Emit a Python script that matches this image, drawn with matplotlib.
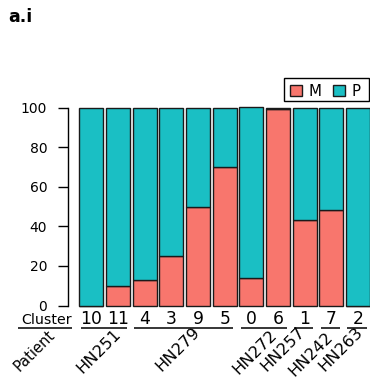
import matplotlib
matplotlib.use("Agg")
import matplotlib.pyplot as plt
from matplotlib.patches import Rectangle

plt.rcParams['font.family'] = ['DejaVu Sans']

# Cluster composition: percent of cells from metastasis (M) vs primary (P)
clusters = ['10', '11', '4', '3', '9', '5', '0', '6', '1', '7', '2']
patients = ['HN251', 'HN251', 'HN279', 'HN279', 'HN279', 'HN279',
            'HN272', 'HN272', 'HN257', 'HN242', 'HN263']
pct_m = [0, 10, 13, 25, 50, 70, 14, 99, 43, 48, 0]
pct_p = [100 - v for v in pct_m]
legend_labels = ['M', 'P']

col_m = '#F8766D'
col_p = '#1ABFC4'
edge = '#1a1a1a'

W, H = 370, 380
fig = plt.figure(figsize=(W / 100, H / 100), dpi=100)

# axes placed in pixel terms
ax_left_px, ax_right_px = 67.7, 370.0
ax_top_px, ax_bot_px = 107.5, 305.5
ax = fig.add_axes([ax_left_px / W, 1 - ax_bot_px / H,
                   (ax_right_px - ax_left_px) / W, (ax_bot_px - ax_top_px) / H])

pitch_px = 26.67
x0_px = 91.3
xs = list(range(len(clusters)))
ax.set_xlim((ax_left_px - x0_px) / pitch_px, (ax_right_px - x0_px) / pitch_px)
ax.set_ylim(0, 100)

bw = 0.89
ax.bar(xs, pct_m, width=bw, color=col_m, edgecolor=edge, linewidth=1.0, clip_on=False)
ax.bar(xs, pct_p, width=bw, bottom=pct_m, color=col_p, edgecolor=edge, linewidth=1.0,
       clip_on=False)

for s in ['top', 'right', 'bottom']:
    ax.spines[s].set_visible(False)
ax.spines['left'].set_bounds(0, 100)
ax.spines['left'].set_linewidth(1.0)
ax.set_xticks([])
ax.set_yticks([0, 20, 40, 60, 80, 100])
ax.tick_params(axis='y', length=7.5, width=1.0, pad=7.2, labelsize=10)


def ydata(py):
    return (ax_bot_px - py) * 100.0 / (ax_bot_px - ax_top_px)


def xdata(px):
    return (px - x0_px) / pitch_px


# cluster numbers under bars
y_num = ydata(324.5)
for x, c in zip(xs, clusters):
    ax.text(x, y_num, c, ha='center', va='baseline', fontsize=12.3, clip_on=False)
ax.text(xdata(72), y_num, 'Cluster', ha='right', va='baseline', fontsize=10.2,
        clip_on=False)

# patient groups with underline segments
y_line = ydata(328)
ax.plot([xdata(18), xdata(72)], [y_line, y_line], color='black', lw=1.1,
        clip_on=False, solid_capstyle='butt')

groups = []
for i, p in enumerate(patients):
    if groups and groups[-1][0] == p:
        groups[-1][2] = i
    else:
        groups.append([p, i, i])

# label nudges (points) from each group's centre
nudges = [(14.4, 1.2), (13.7, 2.7), (11.4, 0.9), (3.2, 2.7), (4.2, -0.9), (6.2, 2.7)]
for (p, a, b), (dx, dy) in zip(groups, nudges):
    left = a - 0.40
    right = b + 0.33
    ax.plot([left, right], [y_line, y_line], color='black', lw=1.1,
            clip_on=False, solid_capstyle='butt')
    cx = (left + right) / 2
    ax.annotate(p, xy=(cx, y_line), xytext=(dx, dy), textcoords='offset points',
                ha='right', va='top', rotation=45, fontsize=11.7,
                annotation_clip=False)

ax.annotate('Patient', xy=(xdata(57.5), y_line), xytext=(0, 0.7),
            textcoords='offset points', ha='right', va='top', rotation=45,
            fontsize=10.5, annotation_clip=False)


# legend box drawn in figure pixel units
def fx(px):
    return px / W


def fy(py):
    return 1 - py / H


fig.add_artist(Rectangle((fx(284), fy(101)), fx(369.3) - fx(284), fy(78.3) - fy(101),
                         transform=fig.transFigure, facecolor='white',
                         edgecolor='black', linewidth=1.0, zorder=5))
key_x = [290, 333.3]
txt_x = [308.5, 351.5]
for lab, col, kx, tx in zip(legend_labels, [col_m, col_p], key_x, txt_x):
    fig.add_artist(Rectangle((fx(kx), fy(96)), 11.5 / W, 11 / H,
                             transform=fig.transFigure, facecolor=col,
                             edgecolor=edge, linewidth=1.0, zorder=6))
    fig.text(fx(tx), fy(96), lab, fontsize=10.8, ha='left', va='baseline', zorder=6)

fig.text(8 / W, 1 - 21.7 / H, 'a.i', fontsize=12.5, fontweight='bold',
         ha='left', va='baseline')

fig.savefig('out.png', dpi=100)
